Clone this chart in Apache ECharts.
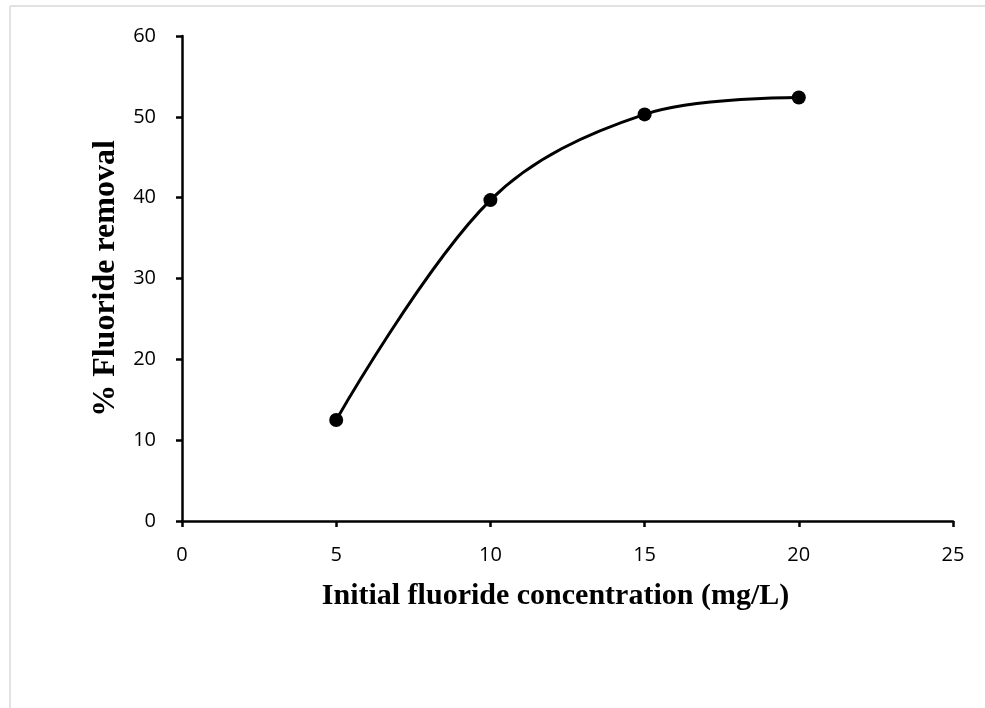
<!DOCTYPE html>
<html>
<head>
<meta charset="utf-8">
<script src="https://cdn.jsdelivr.net/npm/echarts@6/dist/echarts.min.js"></script>
<style>
  html, body { margin: 0; padding: 0; background: #fff; }
  #chart { width: 985px; height: 708px; }
</style>
</head>
<body>
<div id="chart"></div>
<script>
// Initial fluoride concentration (mg/L) vs. % fluoride removal
const concentrations = [5, 10, 15, 20];
const removalPercent = [12.5, 39.7, 50.3, 52.4];
const xTicks = [0, 5, 10, 15, 20, 25];
const yTicks = [0, 10, 20, 30, 40, 50, 60];

const chart = echarts.init(document.getElementById('chart'), null, { renderer: 'canvas' });

const tickFont = { fontFamily: 'Open Sans, Lato, sans-serif', fontSize: 20, color: '#000' };
const serifBold = 'Liberation Serif, Times New Roman, serif';

chart.setOption({
  animation: false,
  backgroundColor: '#fff',
  graphic: [
    { type: 'line', shape: { x1: 10, y1: 6, x2: 985, y2: 6 }, style: { stroke: '#d9d9d9', lineWidth: 1.5 } },
    { type: 'line', shape: { x1: 10, y1: 6, x2: 10, y2: 708 }, style: { stroke: '#d9d9d9', lineWidth: 1.5 } }
  ],
  grid: { left: 182, top: 36, right: 32, bottom: 187, containLabel: false },
  xAxis: {
    type: 'value',
    min: xTicks[0],
    max: xTicks[xTicks.length - 1],
    interval: 5,
    axisLine: { lineStyle: { color: '#000', width: 2.5 } },
    axisTick: { show: true, length: 6, lineStyle: { color: '#000', width: 2.5 } },
    splitLine: { show: false },
    axisLabel: Object.assign({ margin: 24 }, tickFont),
    name: 'Initial fluoride concentration (mg/L)',
    nameLocation: 'middle',
    nameGap: 60,
    nameTextStyle: {
      fontFamily: serifBold, fontSize: 30, fontWeight: 'bold', color: '#000',
      padding: [0, 24, 0, 0]
    }
  },
  yAxis: {
    type: 'value',
    min: yTicks[0],
    max: yTicks[yTicks.length - 1],
    interval: 10,
    axisLine: { lineStyle: { color: '#000', width: 2.5 } },
    axisTick: { show: true, length: 6, lineStyle: { color: '#000', width: 2.5 } },
    splitLine: { show: false },
    axisLabel: Object.assign({ margin: 26 }, tickFont),
    name: '% Fluoride removal',
    nameLocation: 'middle',
    nameGap: 59,
    nameRotate: 90,
    nameTextStyle: { fontFamily: serifBold, fontSize: 32, fontWeight: 'bold', color: '#000' }
  },
  series: [{
    type: 'line',
    data: concentrations.map((c, i) => [c, removalPercent[i]]),
    smooth: 0.35,
    symbol: 'circle',
    symbolSize: 14,
    lineStyle: { color: '#000', width: 3 },
    itemStyle: { color: '#000' }
  }]
});
</script>
</body>
</html>
